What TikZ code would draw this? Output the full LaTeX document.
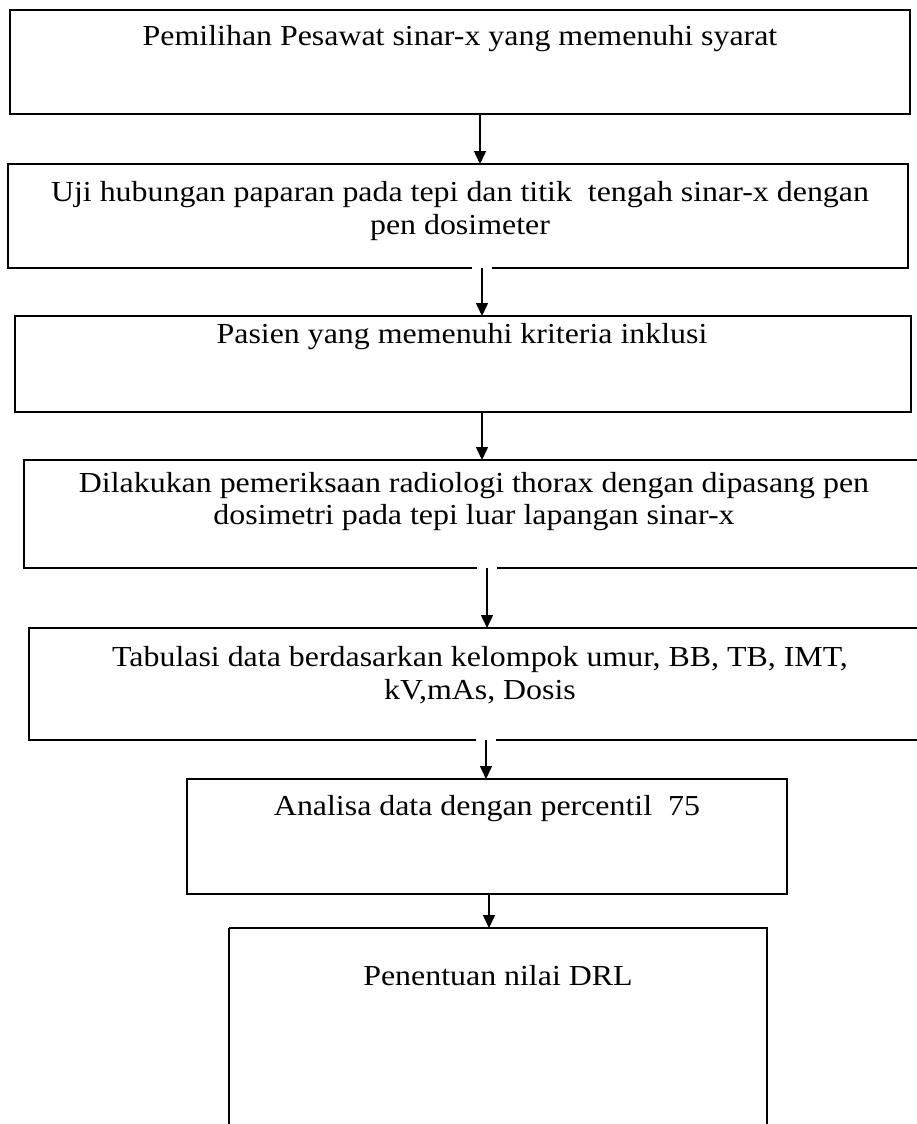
\documentclass[tikz,border=0pt]{standalone}
\usepackage{fontspec}
\setmainfont{Liberation Serif}[FakeStretch=1.1]
\usetikzlibrary{arrows.meta}
\begin{document}
\begin{tikzpicture}[x=1pt,y=-1pt,
  boxstyle/.style={draw=black, line width=1.6pt, fill=none},
  lbl/.style={anchor=base, inner sep=0pt, font=\fontsize{29}{33}\selectfont},
  arr/.style={line width=1.5pt, -{Triangle[width=12pt,length=13pt]}},
  gapline/.style={draw=white, line width=4pt}
]
\useasboundingbox[fill=white] (0,0) rectangle (917,1124);
% boxes
\draw[boxstyle] (10,10) rectangle (910,114);
\draw[boxstyle] (8,164) rectangle (908,268);
\draw[boxstyle] (15,316) rectangle (911,412);
\draw[boxstyle] (24,460) rectangle (940,568);
\draw[boxstyle] (29,628) rectangle (940,740);
\draw[boxstyle] (187,779) rectangle (787,894);
\draw[boxstyle] (229,928) -- (229,1140);
\draw[boxstyle] (229,928) -- (767,928) -- (767,1140);
% nodes for connection
\coordinate (b1s) at (480,114);
\coordinate (b2n) at (480,164);
\coordinate (b2s) at (482,268);
\coordinate (b3n) at (482,316);
\coordinate (b3s) at (482,412);
\coordinate (b4n) at (482,460);
\coordinate (b4s) at (487,568);
\coordinate (b5n) at (487,628);
\coordinate (b5s) at (486,740);
\coordinate (b6n) at (486,779);
\coordinate (b6s) at (489,894);
\coordinate (b7n) at (489,928);
% texts
\node[lbl] (t1) at (460,46) {Pemilihan Pesawat sinar-x yang memenuhi syarat};
\node[lbl] (t2a) at (460,201) {Uji hubungan paparan pada tepi dan titik\ \ tengah sinar-x dengan};
\node[lbl] (t2b) at (460,234) {pen dosimeter};
\node[lbl] (t3) at (462,343) {Pasien yang memenuhi kriteria inklusi};
\node[lbl] (t4a) at (474,492) {Dilakukan pemeriksaan radiologi thorax dengan dipasang pen};
\node[lbl] (t4b) at (474,524) {dosimetri pada tepi luar lapangan sinar-x};
\node[lbl] (t5a) at (480,666) {Tabulasi data berdasarkan kelompok umur, BB, TB, IMT,};
\node[lbl] (t5b) at (480,699) {kV,mAs, Dosis};
\node[lbl] (t6) at (487,815) {Analisa data dengan percentil\ \ 75};
\node[lbl] (t7) at (498,985) {Penentuan nilai DRL};
% gaps
\draw[gapline] ([xshift=-10]b2s) -- ([xshift=10]b2s);
\draw[gapline] ([xshift=-10]b4s) -- ([xshift=10]b4s);
\draw[gapline] ([xshift=-10]b5s) -- ([xshift=10]b5s);
% arrows
\draw[arr] (b1s) -- (b2n);
\draw[arr] (b2s) -- (b3n);
\draw[arr] (b3s) -- (b4n);
\draw[arr] (b4s) -- (b5n);
\draw[arr] (b5s) -- (b6n);
\draw[arr] (b6s) -- (b7n);
\end{tikzpicture}
\end{document}
